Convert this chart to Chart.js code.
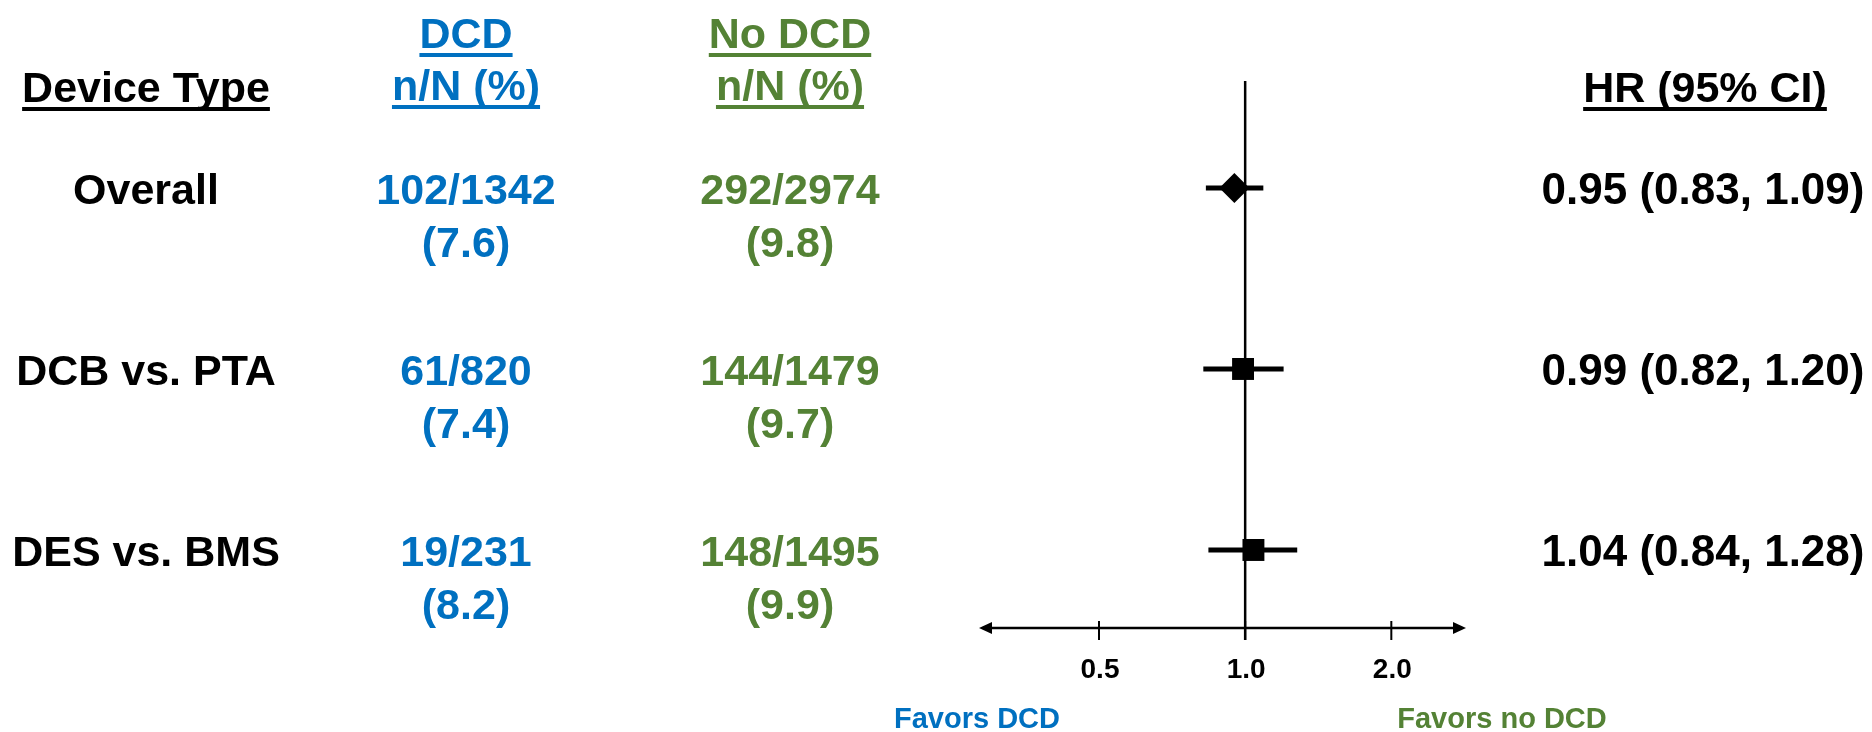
<!DOCTYPE html>
<html>
<head>
<meta charset="utf-8">
<script src="https://cdn.jsdelivr.net/npm/chart.js@4"></script>
<style>
  html, body { margin: 0; padding: 0; background: #ffffff; }
  #wrap { position: relative; width: 1872px; height: 732px; }
</style>
</head>
<body>
<div id="wrap"><canvas id="forest"></canvas></div>
<script>
"use strict";

// ── Data ────────────────────────────────────────────────────────────────────
const groups     = ["Overall", "DCB vs. PTA", "DES vs. BMS"];
const dcdCounts  = ["102/1342", "61/820", "19/231"];
const dcdPct     = [7.6, 7.4, 8.2];
const noCounts   = ["292/2974", "144/1479", "148/1495"];
const noPct      = [9.8, 9.7, 9.9];
const hrValues   = [0.95, 0.99, 1.04];
const ciLower    = [0.83, 0.82, 0.84];
const ciUpper    = [1.09, 1.20, 1.28];
const markers    = ["rectRot", "rect", "rect"];
const rowY       = [3, 2, 1];
const tickValues = [0.5, 1.0, 2.0];
const tickLabels = ["0.5", "1.0", "2.0"];

// ── Styling ─────────────────────────────────────────────────────────────────
const BLUE  = "#0070C0";
const GREEN = "#548235";
const BLACK = "#000000";
const FONT  = "'Liberation Sans', Arial, Helvetica, sans-serif";

function drawText(ctx, text, x, y, color, size, underline) {
  ctx.save();
  ctx.font = `bold ${size}px ${FONT}`;
  ctx.fillStyle = color;
  ctx.textAlign = "center";
  ctx.textBaseline = "alphabetic";
  ctx.fillText(text, x, y);
  if (underline) {
    const w = ctx.measureText(text).width;
    ctx.fillRect(x - w / 2, y + 5, w, 4);
  }
  ctx.restore();
}

const hrText = (i) =>
  `${hrValues[i].toFixed(2)} (${ciLower[i].toFixed(2)}, ${ciUpper[i].toFixed(2)})`;

// ── Decorations: reference line, arrow axis, table text ─────────────────────
const forestDecor = {
  id: "forestDecor",
  beforeDatasetsDraw(chart) {
    const { ctx, chartArea, scales } = chart;
    const x = scales.x;
    const axisY = chartArea.bottom;
    ctx.save();
    ctx.strokeStyle = BLACK;
    ctx.fillStyle = BLACK;

    // vertical line of no effect
    const x1 = x.getPixelForValue(1);
    ctx.lineWidth = 2.5;
    ctx.beginPath();
    ctx.moveTo(x1, chartArea.top);
    ctx.lineTo(x1, axisY + 12);
    ctx.stroke();

    // horizontal axis with arrows
    ctx.lineWidth = 2.5;
    ctx.beginPath();
    ctx.moveTo(chartArea.left + 10, axisY);
    ctx.lineTo(chartArea.right - 10, axisY);
    ctx.stroke();
    ctx.beginPath();
    ctx.moveTo(chartArea.left, axisY);
    ctx.lineTo(chartArea.left + 13, axisY - 6);
    ctx.lineTo(chartArea.left + 13, axisY + 6);
    ctx.closePath();
    ctx.fill();
    ctx.beginPath();
    ctx.moveTo(chartArea.right, axisY);
    ctx.lineTo(chartArea.right - 13, axisY - 6);
    ctx.lineTo(chartArea.right - 13, axisY + 6);
    ctx.closePath();
    ctx.fill();

    // ticks + labels
    tickValues.forEach((v, i) => {
      const px = x.getPixelForValue(v);
      ctx.lineWidth = 2;
      ctx.beginPath();
      ctx.moveTo(px, axisY - 7);
      ctx.lineTo(px, axisY + 12);
      ctx.stroke();
      drawText(ctx, tickLabels[i], px + 1, axisY + 50, BLACK, 28, false);
    });
    ctx.restore();
  },
  afterDraw(chart) {
    const { ctx, scales } = chart;
    const y = scales.y;

    // headers
    drawText(ctx, "Device Type", 146, 102, BLACK, 43, true);
    drawText(ctx, "DCD", 466, 48, BLUE, 43, true);
    drawText(ctx, "n/N (%)", 466, 100, BLUE, 43, true);
    drawText(ctx, "No DCD", 790, 48, GREEN, 43, true);
    drawText(ctx, "n/N (%)", 790, 100, GREEN, 43, true);
    drawText(ctx, "HR (95% CI)", 1705, 102, BLACK, 43, true);

    // rows
    groups.forEach((g, i) => {
      const base = y.getPixelForValue(rowY[i]) + 16;
      drawText(ctx, g, 146, base, BLACK, 43, false);
      drawText(ctx, dcdCounts[i], 466, base, BLUE, 43, false);
      drawText(ctx, `(${dcdPct[i].toFixed(1)})`, 466, base + 53, BLUE, 43, false);
      drawText(ctx, noCounts[i], 790, base, GREEN, 43, false);
      drawText(ctx, `(${noPct[i].toFixed(1)})`, 790, base + 53, GREEN, 43, false);
      drawText(ctx, hrText(i), 1703, base, BLACK, 44, false);
    });

    // favours labels
    drawText(ctx, "Favors DCD", 977, 728, BLUE, 29, false);
    drawText(ctx, "Favors no DCD", 1502, 728, GREEN, 29, false);
  },
};

// ── Datasets ────────────────────────────────────────────────────────────────
const ciSets = groups.map((g, i) => ({
  type: "line",
  label: g + " CI",
  data: [{ x: ciLower[i], y: rowY[i] }, { x: ciUpper[i], y: rowY[i] }],
  borderColor: BLACK,
  borderWidth: 5,
  borderCapStyle: "butt",
  pointRadius: 0,
  order: 2,
}));

const pointSet = {
  type: "scatter",
  label: "HR",
  data: hrValues.map((v, i) => ({ x: v, y: rowY[i] })),
  pointStyle: markers,
  pointRadius: markers.map(m => (m === "rectRot" ? 15 : 15.5)),
  backgroundColor: BLACK,
  borderColor: BLACK,
  borderWidth: 0,
  order: 1,
};

new Chart(document.getElementById("forest"), {
  type: "scatter",
  data: { datasets: [...ciSets, pointSet] },
  options: {
    responsive: true,
    maintainAspectRatio: false,
    animation: false,
    layout: { padding: { left: 979, right: 406, top: 81, bottom: 104 } },
    plugins: { legend: { display: false }, tooltip: { enabled: false } },
    scales: {
      x: { type: "logarithmic", min: 0.283, max: 2.85, display: false },
      y: { type: "linear", min: 0.569, max: 3.591, display: false },
    },
  },
  plugins: [forestDecor],
});
</script>
</body>
</html>
